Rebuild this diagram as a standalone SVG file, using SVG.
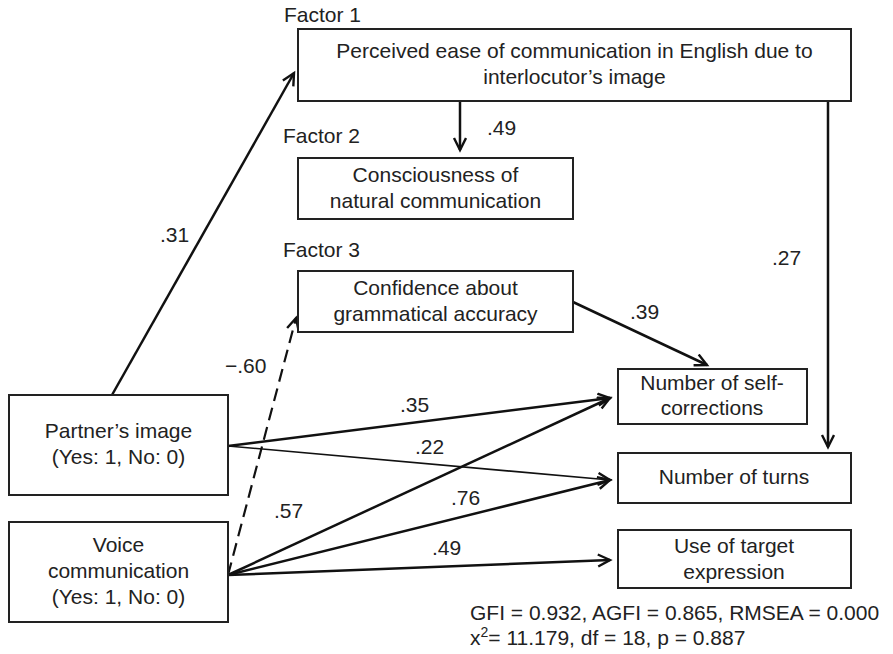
<svg xmlns="http://www.w3.org/2000/svg" width="893" height="654" viewBox="0 0 893 654">
  <style>
    .box { fill: #fff; stroke: #222; stroke-width: 2; }
    .t { font-family: "Liberation Sans", Arial, sans-serif; font-size: 21px; fill: #222; }
    .c { text-anchor: middle; }
    .path { fill: none; stroke: #111; stroke-width: 2.5; marker-end: url(#arr); }
    .thin { stroke-width: 1.6; }
    .dash { stroke-dasharray: 13 7; stroke-width: 2.2; }
  </style>
  <defs>
    <marker id="arr" markerUnits="userSpaceOnUse" markerWidth="16" markerHeight="16" refX="13" refY="7" orient="auto">
      <path d="M1,1 L13,7 L1,13" fill="none" stroke="#111" stroke-width="2.4" stroke-linejoin="miter"/>
    </marker>
  </defs>
  <rect width="893" height="654" fill="#fff"/>

  <!-- connectors -->
  <g id="connectors">
    <line class="path" x1="112" y1="395" x2="294" y2="73"/>
    <line class="path" x1="460" y1="101" x2="460" y2="150"/>
    <line class="path" x1="828" y1="101" x2="828" y2="447"/>
    <line class="path" x1="573" y1="302" x2="707" y2="365"/>
    <line class="path dash" x1="228" y1="575" x2="296" y2="318"/>
    <line class="path" x1="228" y1="446" x2="610" y2="398"/>
    <line class="path thin" x1="228" y1="446" x2="610" y2="480"/>
    <line class="path" x1="228" y1="575" x2="610" y2="398"/>
    <line class="path" x1="228" y1="575" x2="610" y2="480"/>
    <line class="path" x1="228" y1="575" x2="610" y2="560"/>

    <text class="t" x="160" y="242">.31</text>
    <text class="t" x="487" y="135">.49</text>
    <text class="t" x="772" y="265">.27</text>
    <text class="t" x="630" y="319">.39</text>
    <text class="t" x="225" y="373">−.60</text>
    <text class="t" x="400" y="412">.35</text>
    <text class="t" x="415" y="454">.22</text>
    <text class="t" x="274" y="518">.57</text>
    <text class="t" x="451" y="505">.76</text>
    <text class="t" x="432" y="555">.49</text>
  </g>

  <!-- Factor 1 -->
  <g id="factor1">
    <text class="t" x="284" y="22">Factor 1</text>
    <rect class="box" x="298" y="29" width="553" height="72"/>
    <text class="t c" x="574.5" y="58">Perceived ease of communication in English due to</text>
    <text class="t c" x="574.5" y="84">interlocutor’s image</text>
  </g>

  <!-- Factor 2 -->
  <g id="factor2">
    <text class="t" x="283" y="143">Factor 2</text>
    <rect class="box" x="298" y="158" width="275" height="61"/>
    <text class="t c" x="435.5" y="182">Consciousness of</text>
    <text class="t c" x="435.5" y="208">natural communication</text>
  </g>

  <!-- Factor 3 -->
  <g id="factor3">
    <text class="t" x="283" y="257">Factor 3</text>
    <rect class="box" x="298" y="271" width="275" height="61"/>
    <text class="t c" x="435.5" y="295">Confidence about</text>
    <text class="t c" x="435.5" y="321">grammatical accuracy</text>
  </g>

  <!-- Partner's image -->
  <g id="partner">
    <rect class="box" x="9" y="395" width="219" height="100"/>
    <text class="t c" x="118.5" y="438">Partner’s image</text>
    <text class="t c" x="118.5" y="464">(Yes: 1, No: 0)</text>
  </g>

  <!-- Voice communication -->
  <g id="voice">
    <rect class="box" x="9" y="522" width="219" height="100"/>
    <text class="t c" x="118.5" y="552">Voice</text>
    <text class="t c" x="118.5" y="578">communication</text>
    <text class="t c" x="118.5" y="604">(Yes: 1, No: 0)</text>
  </g>

  <!-- Number of self-corrections -->
  <g id="selfcorr">
    <rect class="box" x="618" y="369" width="189" height="55"/>
    <text class="t c" x="712" y="390">Number of self-</text>
    <text class="t c" x="712" y="415">corrections</text>
  </g>

  <!-- Number of turns -->
  <g id="turns">
    <rect class="box" x="618" y="453" width="233" height="50"/>
    <text class="t c" x="734" y="484">Number of turns</text>
  </g>

  <!-- Use of target expression -->
  <g id="target">
    <rect class="box" x="618" y="530" width="233" height="58"/>
    <text class="t c" x="734" y="553">Use of target</text>
    <text class="t c" x="734" y="579">expression</text>
  </g>

  <!-- fit indices -->
  <g id="fit">
    <text class="t" x="470" y="620">GFI = 0.932, AGFI = 0.865, RMSEA = 0.000</text>
    <text class="t" x="470" y="645">x<tspan font-size="14" dy="-8">2</tspan><tspan dy="8">= 11.179, df = 18, p = 0.887</tspan></text>
  </g>
</svg>
